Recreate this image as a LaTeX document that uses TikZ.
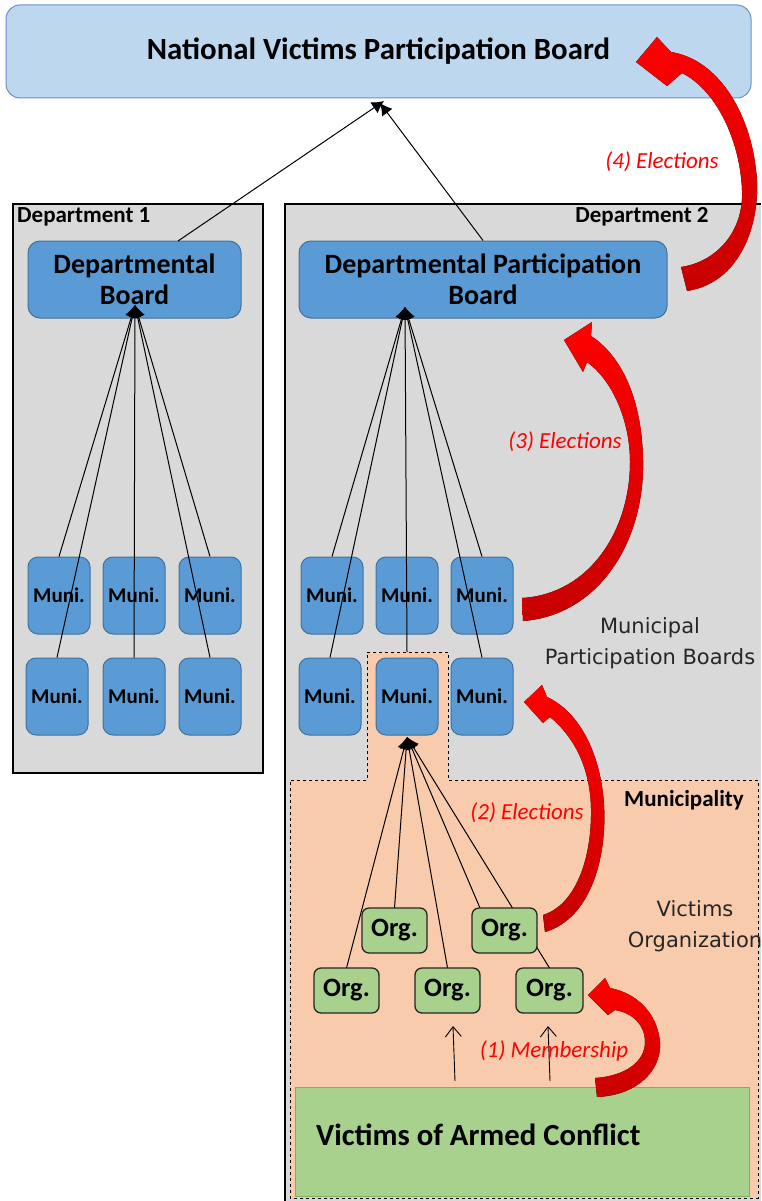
\documentclass[tikz,border=0pt]{standalone}
\usepackage{fontspec}
\setmainfont{Carlito}
\newfontfamily\dejavu{DejaVu Sans}
\usetikzlibrary{arrows.meta,calc}
\definecolor{natf}{HTML}{BDD7EE}
\definecolor{natb}{HTML}{6A93C8}
\definecolor{boardf}{HTML}{5B9BD5}
\definecolor{boardb}{HTML}{41719C}
\definecolor{orgf}{HTML}{A9D18E}
\definecolor{vicb}{HTML}{7FAF5F}
\definecolor{deptf}{HTML}{D9D9D9}
\definecolor{munif}{HTML}{F8CBAD}
\definecolor{txtg}{HTML}{262626}
\tikzset{
  natbox/.style={draw=natb, fill=natf, rounded corners=14pt, minimum width=745pt, minimum height=93pt, line width=1pt, font=\fontsize{30.8}{34}\selectfont\bfseries},
  boardbox/.style={draw=boardb, fill=boardf, rounded corners=12pt, line width=1pt, align=center, minimum height=77pt, inner sep=0pt, font=\fontsize{28}{31}\selectfont\bfseries},
  munibox/.style={draw=boardb, fill=boardf, rounded corners=10pt, line width=1pt, minimum width=62pt, minimum height=77pt, inner sep=0pt, font=\fontsize{21}{24}\selectfont\bfseries},
  orgbox/.style={draw=black!85, fill=orgf, rounded corners=7pt, line width=1.3pt, minimum width=65pt, minimum height=45pt, inner sep=0pt, font=\fontsize{26.5}{28}\selectfont\bfseries},
  deptlabel/.style={font=\fontsize{23}{25}\selectfont\bfseries, inner sep=0pt},
  redlabel/.style={text=red, font=\fontsize{23}{25}\selectfont\itshape, inner sep=0pt},
  graylabel/.style={text=txtg, font=\dejavu\fontsize{21}{31}\selectfont, align=center, inner sep=0pt},
  link/.style={-{Latex[length=12pt,width=13pt]}, line width=1pt},
  memb/.style={-{Straight Barb[length=10pt,width=16pt]}, line width=0.9pt},
  redarr/.style={top color=red, bottom color=red!78!black, draw=none}
}
\begin{document}
\begin{tikzpicture}[x=1pt,y=-1pt]
\useasboundingbox (0,0) rectangle (761,1201);
\fill[white] (0,0) rectangle (761,1201);
% department areas
\draw[fill=deptf, line width=1.2pt] (13,204) rectangle (263,773);
\fill[deptf] (285,204) rectangle (761,1201);
\draw[line width=1.2pt] (285,1201) -- (285,204) -- (761,204);
\node[deptlabel, anchor=west] (d1lab) at (17,217) {Department 1};
\node[deptlabel] (d2lab) at (642,217) {Department 2};
% municipality area
\draw[fill=munif, dashed, line width=0.8pt] (367,652) -- (448,652) -- (448,780) -- (758,780) -- (758,1198) -- (290,1198) -- (290,780) -- (367,780) -- cycle;
\node[deptlabel] (mlab) at (684,800) {Municipality};
% national board
\node[natbox] (nat) at (378.5,51.5) {National Victims Participation Board};
% departmental boards
\node[boardbox, minimum width=213pt] (db) at (134.5,279.5) {Departmental\\Board};
\node[boardbox, minimum width=368pt] (dpb) at (483,279.5) {Departmental Participation\\Board};
% municipal boards, department 1
\node[munibox] (a1) at (59,595.5) {Muni.};
\node[munibox] (a2) at (134,595.5) {Muni.};
\node[munibox] (a3) at (210,595.5) {Muni.};
\node[munibox] (a4) at (57,696.5) {Muni.};
\node[munibox] (a5) at (134,696.5) {Muni.};
\node[munibox] (a6) at (210,696.5) {Muni.};
% municipal boards, department 2
\node[munibox] (b1) at (332,595.5) {Muni.};
\node[munibox] (b2) at (407,595.5) {Muni.};
\node[munibox] (b3) at (482,595.5) {Muni.};
\node[munibox] (b4) at (330,696.5) {Muni.};
\node[munibox] (b5) at (407,696.5) {Muni.};
\node[munibox] (b6) at (482,696.5) {Muni.};
% connectors to national board
\coordinate (dbout) at (178,241);
\coordinate (natin1) at (384,101);
\coordinate (natin2) at (380,103);
\draw[link] (dbout) -- (natin1);
\draw[link] (dpb.north) -- (natin2);
% department 1 fan
\coordinate (dbin) at (135,305);
\foreach \m in {a1,a4,a5,a6,a3} \draw[link] (\m.north) -- (dbin);
% department 2 fan
\coordinate (dpbin) at (405,307);
\coordinate (notchtop) at (407,652);
\foreach \m in {b1,b4,b3,b6} \draw[link] (\m.north) -- (dpbin);
\draw[link] (notchtop) -- (dpbin);
% victims box
\node[draw=vicb, fill=orgf, line width=1pt, minimum width=454pt, minimum height=109pt] (vic) at (522,1141.5) {};
\node[anchor=west, inner sep=0pt, font=\fontsize{30.7}{34}\selectfont\bfseries] (victxt) at (316,1135) {Victims of Armed Conflict};
% organizations fan
\coordinate (munin) at (407,737);
\coordinate (o2in) at (480,908);
\draw[link] (346.5,968) coordinate (c1) -- (munin);
\draw[link] (394.5,908) coordinate (c2) -- (munin);
\draw[link] (447.5,968) coordinate (c3) -- (munin);
\draw[link] (o2in) -- (munin);
\draw[link] (549.5,968) coordinate (c5) -- (munin);
\node[orgbox] (o1) at (394.5,930.5) {Org.};
\node[orgbox] (o2) at (504.5,930.5) {Org.};
\node[orgbox] (o3) at (346.5,990.5) {Org.};
\node[orgbox] (o4) at (447.5,990.5) {Org.};
\node[orgbox, minimum width=67pt] (o5) at (549.5,990.5) {Org.};
% membership arrows
\coordinate (v1) at (455,1081);
\coordinate (v2) at (550,1081);
\coordinate (t1) at (453,1026);
\coordinate (t2) at (548,1026);
\draw[memb] (v1) -- (t1);
\draw[memb] (v2) -- (t2);
% side labels
\node[graylabel] (mpb) at (650,643) {Municipal\\Participation Boards};
\node[graylabel] (vo) at (695,926) {Victims\\Organization};
% red election arrows
\fill[redarr] (687,291) .. controls (745,282) and (762,215) .. (756,170) .. controls (750,115) and (720,60) .. (671,52) -- (657,37) -- (636,62) -- (667,86) -- (682,73) .. controls (716,90) and (740,140) .. (742,190) .. controls (744,232) and (716,262) .. (681,267) -- cycle;
\fill[redarr] (523,621) .. controls (600,615) and (645,540) .. (643,460) .. controls (642,400) and (622,356) .. (591,336) -- (592,322) -- (564,340) -- (583,372) -- (587,362) .. controls (612,380) and (630,420) .. (630,462) .. controls (630,530) and (590,594) .. (522,598) -- cycle;
\fill[redarr] (545,932) .. controls (592,918) and (607,855) .. (604,805) .. controls (601,755) and (580,712) .. (547,697) -- (542,685) -- (524,702) -- (543,723) -- (550,717) .. controls (572,735) and (590,765) .. (591,808) .. controls (592,860) and (575,905) .. (543,915) -- cycle;
\fill[redarr] (597,1097) .. controls (640,1095) and (662,1068) .. (660,1042) .. controls (657,1012) and (636,993) .. (610,988) -- (605,978) -- (588,995) -- (608,1015) -- (615,1010) .. controls (633,1013) and (645,1025) .. (645,1042) .. controls (645,1062) and (625,1076) .. (595,1078) -- cycle;
\node[redlabel] (l4) at (662,162) {(4) Elections};
\node[redlabel] (l3) at (565,442) {(3) Elections};
\node[redlabel] (l2) at (527,813) {(2) Elections};
\node[redlabel] (l1) at (554,1051) {(1) Membership};
\end{tikzpicture}
\end{document}
